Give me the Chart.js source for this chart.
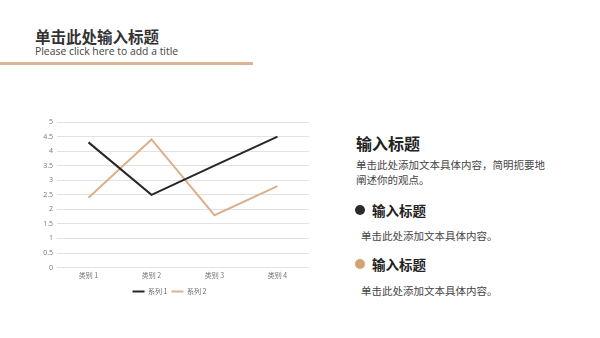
<!DOCTYPE html>
<html><head><meta charset="utf-8">
<script src="https://cdn.jsdelivr.net/npm/chart.js@4"></script>
<style>
html,body{margin:0;padding:0;background:#fff;width:600px;height:338px;overflow:hidden;font-family:"Noto Sans CJK SC","Noto Sans",sans-serif;}
.abs{position:absolute;white-space:nowrap;}
#title{left:35px;top:25px;font-size:15.5px;font-weight:bold;color:#333;}
#sub{left:35px;top:44px;font-size:10.4px;color:#444;font-family:"Open Sans","Noto Sans",sans-serif;}
#rule{left:0;top:62px;width:253px;height:3px;background:#dcb393;}
#wrap{position:absolute;left:30px;top:110px;width:290px;height:195px;}
.h1{font-size:16px;font-weight:bold;color:#222;}
.h2{font-size:13.5px;font-weight:bold;color:#222;}
.t{font-size:10.5px;color:#444;line-height:15px;}
.dot{position:absolute;width:10px;height:10px;border-radius:50%;}
</style></head><body>
<div class="abs" id="title">单击此处输入标题</div>
<div class="abs" id="sub">Please click here to add a title</div>
<div class="abs" id="rule"></div>
<div id="wrap"><canvas id="c" width="290" height="195"></canvas></div>
<div class="abs h1" style="left:356px;top:131px;">输入标题</div>
<div class="abs t" style="left:356px;top:157px;">单击此处添加文本具体内容，简明扼要地<br>阐述你的观点。</div>
<div class="dot" style="left:355px;top:205px;background:#2b2b2b;"></div>
<div class="abs h2" style="left:372px;top:200px;">输入标题</div>
<div class="abs t" style="left:361px;top:228px;">单击此处添加文本具体内容。</div>
<div class="dot" style="left:355px;top:259px;background:#d4a373;"></div>
<div class="abs h2" style="left:372px;top:254px;">输入标题</div>
<div class="abs t" style="left:361px;top:283px;">单击此处添加文本具体内容。</div>
<script>
const categories = ["类别 1","类别 2","类别 3","类别 4"];
const series1 = [4.3, 2.5, 3.5, 4.5];
const series2 = [2.4, 4.4, 1.8, 2.8];
const seriesNames = ["系列 1","系列 2"];
const yTicks = [0,0.5,1,1.5,2,2.5,3,3.5,4,4.5,5];

new Chart(document.getElementById('c'), {
  type: 'line',
  data: {
    labels: categories,
    datasets: [
      {label: seriesNames[0], data: series1, borderColor:'#262626', backgroundColor:'#262626', borderWidth:2, pointRadius:0, tension:0},
      {label: seriesNames[1], data: series2, borderColor:'#dcb08c', backgroundColor:'#dcb08c', borderWidth:2, pointRadius:0, tension:0}
    ]
  },
  options: {
    responsive:false, animation:false, maintainAspectRatio:false,
    layout:{padding:{left:0,right:11,top:12,bottom:0}},
    plugins:{
      legend:{position:'bottom', labels:{usePointStyle:true, pointStyle:'line', pointStyleWidth:12, boxWidth:12, boxHeight:2, padding:4, font:{size:7, family:'"Noto Sans CJK SC"'}, color:'#666'}},
      tooltip:{enabled:false}
    },
    scales:{
      x:{offset:true, grid:{display:false, drawTicks:false}, border:{display:false}, ticks:{font:{size:7,family:'"Noto Sans CJK SC"'}, color:'#777', padding:4}},
      y:{min:0,max:5, afterBuildTicks:(a)=>{a.ticks=yTicks.map(v=>({value:v}));}, afterFit:(a)=>{a.width=27;}, grid:{color:'#e2e2e2', drawTicks:false}, border:{display:false}, ticks:{font:{size:7,family:'"Open Sans"'}, color:'#777', padding:4, callback:(v)=>String(v)}}
    }
  }
});
</script>
</body></html>
